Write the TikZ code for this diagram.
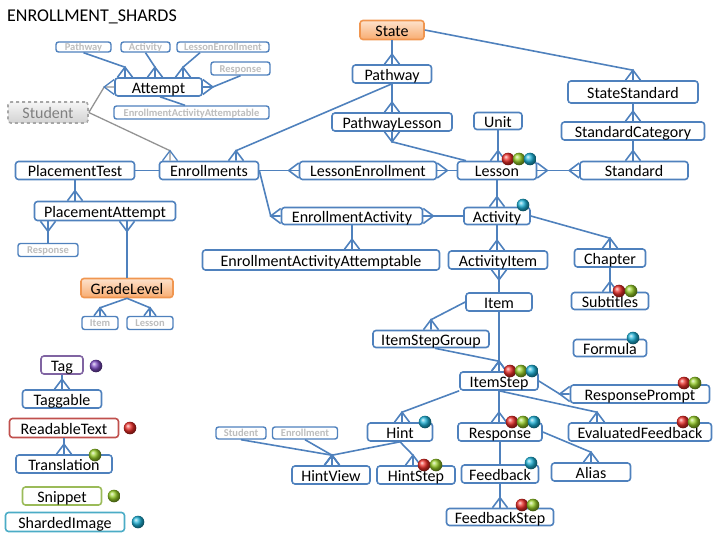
\documentclass[tikz,border=0pt]{standalone}
\usepackage{fontspec}
\setmainfont{Carlito}
\usetikzlibrary{arrows.meta,calc}

\pgfdeclarearrow{
  name = Crow,
  defaults = {length = 10pt, width = 15pt},
  setup code = {
    \pgfarrowssettipend{0pt}
    \pgfarrowssetlineend{0pt}
    \pgfarrowssetbackend{-\pgfarrowlength}
    \pgfarrowshullpoint{0pt}{.5\pgfarrowwidth}
    \pgfarrowshullpoint{0pt}{-.5\pgfarrowwidth}
    \pgfarrowshullpoint{-\pgfarrowlength}{0pt}
    \pgfarrowssavethe\pgfarrowlength
    \pgfarrowssavethe\pgfarrowwidth
  },
  drawing code = {
    \pgfpathmoveto{\pgfpoint{0pt}{.5\pgfarrowwidth}}
    \pgfpathlineto{\pgfpoint{-\pgfarrowlength}{0pt}}
    \pgfpathlineto{\pgfpoint{0pt}{-.5\pgfarrowwidth}}
    \pgfusepathqstroke
  },
  parameters = {\the\pgfarrowlength,\the\pgfarrowwidth},
}

\definecolor{ebl}{RGB}{79,129,189}
\definecolor{rb}{RGB}{192,80,77}
\definecolor{gb}{RGB}{155,187,89}
\definecolor{cb}{RGB}{75,172,198}
\definecolor{pb}{RGB}{128,100,162}
\definecolor{rball}{RGB}{235,45,40}
\definecolor{gball}{RGB}{150,205,40}
\definecolor{cball}{RGB}{30,178,215}
\definecolor{pball}{RGB}{125,75,195}
\definecolor{orbord}{RGB}{240,150,80}
\definecolor{ortop}{RGB}{253,226,204}
\definecolor{orbot}{RGB}{248,172,112}

\tikzset{
  box/.style={draw=ebl, line width=1.6pt, rounded corners=3pt, fill=white,
    inner sep=0pt, font=\fontsize{16}{16}\selectfont, text=black,
    text height=12.5pt, text depth=0pt},
  ghost/.style={draw=ebl, line width=1.4pt, rounded corners=2.5pt, fill=white,
    inner sep=0pt, font=\bfseries\fontsize{10.5}{10.5}\selectfont, text=black!26,
    text height=7.5pt, text depth=0pt},
  orangebox/.style={box, draw=orbord, top color=ortop, bottom color=orbot},
  graybox/.style={box, draw=gray!70, dashed, top color=gray!8, bottom color=gray!35, text=gray},
  cn/.style={draw=ebl, line width=1.6pt},
  gcn/.style={draw=gray!85, line width=1.3pt},
  many/.style={-{Crow}},
  bothmany/.style={{Crow}-{Crow}},
  smallmany/.style={-{Crow[length=8pt,width=12pt]}},
}

\newcommand{\bx}[5]{\node[box, minimum width=#4, minimum height=#5] (#1) at #2 {#3};}
\newcommand{\gx}[5]{\node[ghost, minimum width=#4, minimum height=#5] (#1) at #2 {#3};}
\newcommand{\ball}[2]{\shade[ball color=#1] #2 circle (6.3pt);}

\begin{document}
\begin{tikzpicture}[x=1pt,y=-1pt]
\useasboundingbox (0,0) rectangle (720,540);

\node[anchor=west, font=\fontsize{18}{18}\selectfont, inner sep=0pt] (title) at (7,17) {ENROLLMENT\_SHARDS};

% ---- attempt cluster
\gx{PathwayS}{(83.5,47)}{Pathway}{55}{10}
\gx{ActivityS}{(145.5,47)}{Activity}{49}{10}
\gx{LessonEnrollmentS}{(223,47)}{LessonEnrollment}{92}{10}
\gx{ResponseA}{(240.5,68.5)}{Response}{59}{13}
\bx{Attempt}{(158.5,87)}{Attempt}{87}{18}
\gx{EAAS}{(191.5,112.5)}{EnrollmentActivityAttemptable}{155}{13}
\node[graybox, minimum width=80, minimum height=21] (Student) at (48,112.5) {Student};

% ---- main nodes
\node[orangebox, minimum width=64, minimum height=19] (State) at (392,30) {State};
\bx{Pathway}{(392,74)}{Pathway}{79}{18}
\bx{PathwayLesson}{(392,122)}{PathwayLesson}{120}{18}
\bx{Unit}{(498,121)}{Unit}{48}{17}
\bx{StateStandard}{(633,92)}{StateStandard}{130}{22}
\bx{StandardCategory}{(633,131)}{StandardCategory}{143}{18}
\bx{Standard}{(634,170.5)}{Standard}{108}{18}
\bx{Lesson}{(497,170.5)}{Lesson}{79}{18}
\bx{LessonEnrollment}{(368,170.5)}{LessonEnrollment}{137}{18}
\bx{Enrollments}{(209,170.5)}{Enrollments}{99}{18}
\bx{PlacementTest}{(75,170.5)}{PlacementTest}{119}{18}
\bx{PlacementAttempt}{(105,211)}{PlacementAttempt}{141}{19}
\gx{ResponseP}{(48,250)}{Response}{60}{13}
\node[orangebox, minimum width=92, minimum height=19] (GradeLevel) at (127,288) {GradeLevel};
\gx{ItemS}{(100,323)}{Item}{36}{13}
\gx{LessonS}{(150,323)}{Lesson}{46}{13}
\bx{EnrollmentActivity}{(352,216)}{EnrollmentActivity}{141}{17}
\bx{EAA}{(321,260)}{EnrollmentActivityAttemptable}{237}{20}
\bx{Activity}{(497,216)}{Activity}{66}{17}
\bx{ActivityItem}{(498,260)}{ActivityItem}{99}{18}
\bx{Chapter}{(610,258)}{Chapter}{71}{18}
\bx{Subtitles}{(610,301)}{Subtitles}{77}{17}
\bx{Item}{(499,302)}{Item}{66}{18}
\bx{ItemStepGroup}{(431,339)}{ItemStepGroup}{116}{17}
\bx{Formula}{(610,348)}{Formula}{73}{17}
\bx{ItemStep}{(499,381)}{ItemStep}{78}{18}
\bx{ResponsePrompt}{(640,394)}{ResponsePrompt}{139}{18}
\bx{Hint}{(400,432)}{Hint}{65}{18}
\bx{Response}{(500,432)}{Response}{84}{18}
\bx{EvaluatedFeedback}{(640,432)}{EvaluatedFeedback}{143}{18}
\gx{StudentS}{(241,433)}{Student}{50}{12}
\gx{EnrollmentS}{(305,433)}{Enrollment}{65}{12}
\bx{HintView}{(331,475)}{HintView}{78}{18}
\bx{HintStep}{(416,475)}{HintStep}{78}{18}
\bx{Feedback}{(500,474)}{Feedback}{77}{18}
\bx{Alias}{(591,472)}{Alias}{79}{18}
\bx{FeedbackStep}{(500,517)}{FeedbackStep}{107}{17}

% ---- legend
\node[box, draw=pb, minimum width=42, minimum height=18] (Tag) at (62,365) {Tag};
\bx{Taggable}{(62,399)}{Taggable}{79}{18}
\node[box, draw=rb, minimum width=109, minimum height=19] (ReadableText) at (64,428) {ReadableText};
\bx{Translation}{(64,464)}{Translation}{96}{18}
\node[box, draw=gb, minimum width=79, minimum height=18] (Snippet) at (62,496) {Snippet};
\node[box, draw=cb, minimum width=119, minimum height=19] (ShardedImage) at (65,522) {ShardedImage};

% ---- connectors
\draw[cn,many] (PathwayS.south) -- ([xshift=-33.5pt,yshift=10pt]Attempt.north) -- ([xshift=-33.5pt]Attempt.north);
\draw[cn,many] (ActivityS.south) -- ([xshift=-3.5pt,yshift=10pt]Attempt.north) -- ([xshift=-3.5pt]Attempt.north);
\draw[cn,many] ([xshift=-23pt]LessonEnrollmentS.south) -- ([xshift=24.5pt,yshift=10pt]Attempt.north) -- ([xshift=24.5pt]Attempt.north);
\draw[cn,many] (ResponseA.south) -- ([xshift=10pt]Attempt.east) -- (Attempt.east);
\draw[cn] ([xshift=1.5pt]Attempt.south) -- ([xshift=-6.5pt]EAAS.north);
\draw[gcn,-{Crow[color=ebl,line width=1.6pt]}] (Student.east) -- ([xshift=-10pt]Attempt.west) -- (Attempt.west);
\draw[gcn,-{Crow[color=ebl,line width=1.6pt]}] (Student.east) -- ([xshift=-39pt,yshift=10pt]Enrollments.north) -- ([xshift=-39pt]Enrollments.north);

\draw[cn,many] (State.south) -- (Pathway.north);
\draw[cn,many] (State.east) -- ([yshift=10pt]StateStandard.north) -- (StateStandard.north);
\draw[cn,many] (Pathway.south) -- (PathwayLesson.north);
\draw[cn,many] (Pathway.south) -- ([xshift=27pt,yshift=10pt]Enrollments.north) -- ([xshift=27pt]Enrollments.north);
\draw[cn,many] ([xshift=-31pt]Lesson.north) -- ([yshift=-10pt]PathwayLesson.south) -- (PathwayLesson.south);
\draw[cn,many] (Unit.south) -- (Unit.south |- Lesson.north);
\draw[cn,many] (Lesson.west) -- (LessonEnrollment.east);
\draw[cn,many] (Enrollments.east) -- (LessonEnrollment.west);
\draw[cn,bothmany] (Lesson.east) -- (Standard.west);
\draw[cn,many] (StateStandard.south) -- (StandardCategory.north);
\draw[cn,many] (StandardCategory.south) -- (StandardCategory.south |- Standard.north);
\draw[cn,many] (Lesson.south) -- (Activity.north);
\draw[cn,many] (Enrollments.east) -- ([xshift=-10pt]EnrollmentActivity.west) -- (EnrollmentActivity.west);
\draw[cn,many] (Activity.west) -- (EnrollmentActivity.east);
\draw[cn,many] (EnrollmentActivity.south) -- (EnrollmentActivity.south |- EAA.north);
\draw[cn,many] (Activity.south) -- (Activity.south |- ActivityItem.north);
\draw[cn,many] (Item.north) -- (Item.north |- ActivityItem.south);
\draw[cn,many] (Activity.east) -- ([yshift=10pt]Chapter.north) -- (Chapter.north);
\draw[cn,many] (Chapter.south) -- (Subtitles.north);
\draw[cn,many] (Item.west) -- ([yshift=10pt]ItemStepGroup.north) -- (ItemStepGroup.north);
\draw[cn,many] (Item.south) -- (ItemStep.north);
\draw[cn,many] ([xshift=4pt]ItemStepGroup.south) -- ([yshift=10pt]ItemStep.north) -- (ItemStep.north);
\draw[cn,many] (ItemStep.east) -- ([xshift=-10pt]ResponsePrompt.west) -- (ResponsePrompt.west);
\draw[cn,many] (ItemStep.south west) -- ([xshift=2pt,yshift=10pt]Hint.north) -- ([xshift=2pt]Hint.north);
\draw[cn,many] (ItemStep.south) -- (ItemStep.south |- Response.north);
\draw[cn,many] (ItemStep.south) -- ([xshift=-43pt,yshift=10pt]EvaluatedFeedback.north) -- ([xshift=-43pt]EvaluatedFeedback.north);
\draw[cn,many] (Hint.south) -- ([xshift=1pt,yshift=10pt]HintView.north) -- ([xshift=1pt]HintView.north);
\draw[cn,many] (StudentS.south) -- ([xshift=1pt,yshift=10pt]HintView.north) -- ([xshift=1pt]HintView.north);
\draw[cn,many] (EnrollmentS.south) -- ([xshift=1pt,yshift=10pt]HintView.north) -- ([xshift=1pt]HintView.north);
\draw[cn,many] (Hint.south) -- ([xshift=-3pt,yshift=10pt]HintStep.north) -- ([xshift=-3pt]HintStep.north);
\draw[cn] (Response.south) -- (Feedback.north);
\draw[cn,many] (Response.east) -- ([yshift=10pt]Alias.north) -- (Alias.north);
\draw[cn,many] (Feedback.south) -- (FeedbackStep.north);
\draw[cn] (PlacementTest.east) -- (Enrollments.west);
\draw[cn,many] (PlacementTest.south) -- (PlacementTest.south |- PlacementAttempt.north);
\draw[cn,many] (ResponseP.north) -- (ResponseP.north |- PlacementAttempt.south);
\draw[cn,many] (GradeLevel.north) -- (GradeLevel.north |- PlacementAttempt.south);
\draw[cn,smallmany] (GradeLevel.south) -- ([yshift=8pt]ItemS.north) -- (ItemS.north);
\draw[cn,smallmany] (GradeLevel.south) -- ([yshift=8pt]LessonS.north) -- (LessonS.north);
\draw[cn,many] (Tag.south) -- (Taggable.north);
\draw[cn,many] (ReadableText.south) -- (ReadableText.south |- Translation.north);

% ---- balls
\ball{rball}{(508,159)}\ball{gball}{(519,159)}\ball{cball}{(530,159)}
\ball{cball}{(523,205)}
\ball{rball}{(619,291)}\ball{gball}{(631,291)}
\ball{cball}{(633,338)}
\ball{rball}{(510,371)}\ball{gball}{(521,371)}\ball{cball}{(532,371)}
\ball{rball}{(684,383)}\ball{gball}{(695,383)}
\ball{cball}{(425,422)}
\ball{rball}{(512,422)}\ball{gball}{(523,422)}\ball{cball}{(534,422)}
\ball{rball}{(683,422)}\ball{gball}{(694,422)}
\ball{rball}{(424,465)}\ball{gball}{(436,465)}
\ball{cball}{(531,463)}
\ball{rball}{(522,505)}\ball{gball}{(533,505)}
\ball{pball}{(96,366)}
\ball{rball}{(130,428)}
\ball{gball}{(95,455)}
\ball{gball}{(114,496)}
\ball{cball}{(138,522)}
\end{tikzpicture}
\end{document}
